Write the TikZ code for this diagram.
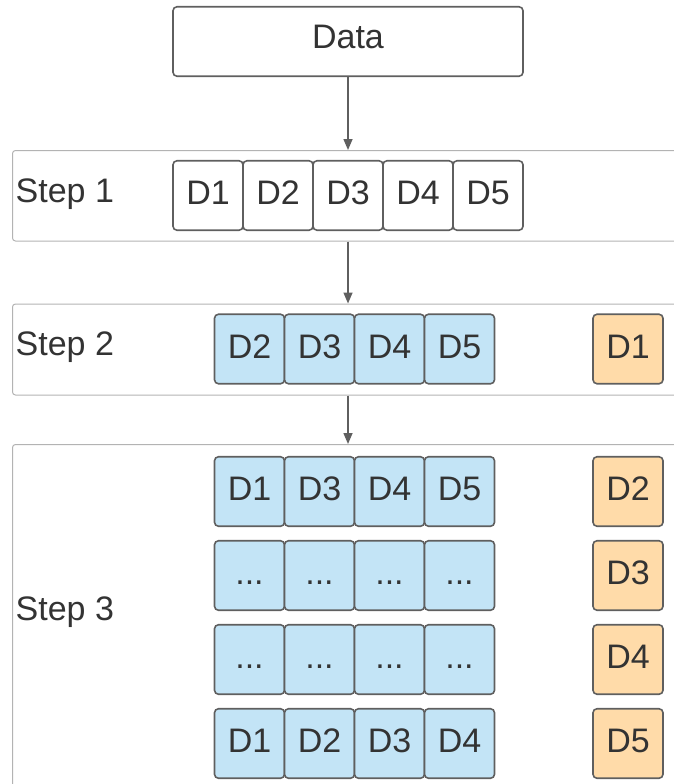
\documentclass[tikz,border=0pt]{standalone}
\usepackage{fontspec}
\setmainfont{Liberation Sans}
\usetikzlibrary{arrows.meta}
\definecolor{txt}{HTML}{333333}
\definecolor{edge}{HTML}{5F5F5F}
\definecolor{bandline}{HTML}{B3B3B3}
\definecolor{trainfill}{HTML}{C3E4F6}
\definecolor{testfill}{HTML}{FFDBA9}
\tikzset{
  lbl/.style={font=\fontsize{34}{41}\selectfont, text=txt},
  cell/.style={lbl, draw=edge, line width=1.6pt, rounded corners=4pt,
    minimum width=70pt, minimum height=69.5pt, inner sep=0pt,
    text height=18pt, text depth=0pt},
  train/.style={cell, fill=trainfill},
  test/.style={cell, fill=testfill},
  band/.style={draw=bandline, line width=1pt, rounded corners=3pt,
    anchor=north west, inner sep=0pt, minimum width=700pt},
  steplbl/.style={lbl, anchor=base west, inner sep=0pt},
  arr/.style={draw=edge, line width=1.5pt,
    -{Triangle[length=11pt,width=9pt]}},
}
\begin{document}
\begin{tikzpicture}[x=1pt, y=-1pt]
\useasboundingbox (0,0) rectangle (674,784);
\clip (0,0) rectangle (674,784);

% source block
\node[cell, minimum width=350pt, text height=14pt] (data) at (348,41.5) {Data};

% step bands
\node[band, minimum height=90.5pt] (s1) at (12,150) {};
\node[band, minimum height=91pt] (s2) at (12,303.5) {};
\node[band, minimum height=400pt] (s3) at (12,444) {};

\node[steplbl] (l1) at (15.5,202.7) {Step 1};
\node[steplbl] (l2) at (15.5,355) {Step 2};
\node[steplbl] (l3) at (15.5,620) {Step 3};

% connectors between stages
\draw[arr] (data.south) -- (data.south |- s1.north);
\draw[arr] (data.south |- s1.south) -- (data.south |- s2.north);
\draw[arr] (data.south |- s2.south) -- (data.south |- s3.north);

% step 1: the five folds
\foreach \i in {1,...,5}
  \node[cell] (a\i) at ({138+70*\i},195.5) {D\i};

% step 2: first split
\foreach \t [count=\j] in {2,3,4,5}
  \node[train] (b\j) at ({179.5+70*\j},349) {D\t};
\node[test] (bt) at (628,349) {D1};

% step 3: remaining splits
\foreach \t [count=\j] in {1,3,4,5}
  \node[train] (c1\j) at ({179.5+70*\j},491.5) {D\t};
\node[test] (c1t) at (628,491.5) {D2};

\foreach \j in {1,...,4}
  \node[train] (c2\j) at ({179.5+70*\j},575.5) {...};
\node[test] (c2t) at (628,575.5) {D3};

\foreach \j in {1,...,4}
  \node[train] (c3\j) at ({179.5+70*\j},659.5) {...};
\node[test] (c3t) at (628,659.5) {D4};

\foreach \t [count=\j] in {1,2,3,4}
  \node[train] (c4\j) at ({179.5+70*\j},743.5) {D\t};
\node[test] (c4t) at (628,743.5) {D5};
\end{tikzpicture}
\end{document}
